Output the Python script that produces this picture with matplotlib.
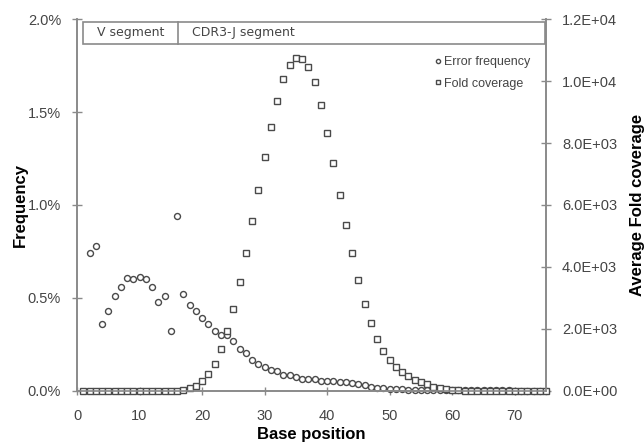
import numpy as np
import matplotlib.pyplot as plt
from matplotlib.ticker import FuncFormatter, MultipleLocator
from matplotlib.patches import Rectangle

# error frequency (%) at base positions 2..75
err_pos = np.arange(2, 76)
err_freq = [0.74, 0.78, 0.36, 0.43, 0.51, 0.56, 0.61, 0.60, 0.615, 0.60,
            0.56, 0.48, 0.51, 0.32, 0.94, 0.52, 0.465, 0.43, 0.39, 0.36,
            0.32, 0.30, 0.30, 0.27, 0.226, 0.206, 0.167, 0.146, 0.131, 0.112,
            0.108, 0.088, 0.085, 0.075, 0.066, 0.062, 0.065, 0.055, 0.054, 0.052,
            0.050, 0.049, 0.045, 0.039, 0.030, 0.022, 0.018, 0.014, 0.012, 0.010,
            0.009, 0.008, 0.007, 0.006, 0.006, 0.005, 0.005, 0.005, 0.004, 0.004,
            0.004, 0.004, 0.003, 0.003, 0.003, 0.003, 0.003, 0.003, 0.002, 0.002,
            0.002, 0.002, 0.002, 0.002]

# average fold coverage at base positions 1..75
cov_pos = np.arange(1, 76)
fold_cov = [0, 0, 0, 0, 0, 0, 0, 0, 0, 0,
            0, 0, 0, 0, 0, 5, 40, 90, 170, 330,
            555, 870, 1350, 1950, 2660, 3525, 4460, 5470, 6490, 7535,
            8515, 9360, 10060, 10530, 10750, 10715, 10455, 9970, 9240, 8320,
            7340, 6330, 5360, 4450, 3580, 2815, 2180, 1680, 1300, 995,
            775, 615, 495, 355, 280, 215, 140, 90, 55, 35,
            22, 15, 10, 8, 6, 5, 4, 3, 3, 2,
            2, 1, 1, 1, 1]

segments = ["V segment", "CDR3-J segment"]
seg_split = 16.1

plt.rcParams['font.family'] = ['Liberation Sans', 'DejaVu Sans']
grey = '#8a8a8a'
mk = '#4a4a4a'
txt = '#454545'

fig = plt.figure(figsize=(6.44, 4.42), dpi=100)
ax = fig.add_axes([0.1196, 0.1154, 0.7283, 0.8416])
ax2 = ax.twinx()

l1, = ax.plot(err_pos, np.array(err_freq) / 100, 'o', ms=4.3, mfc='white',
              mec=mk, mew=1.0, clip_on=False, label='Error frequency')
l2, = ax2.plot(cov_pos, fold_cov, 's', ms=4.2, mfc='white',
               mec=mk, mew=1.0, clip_on=False, label='Fold coverage')

ax.set_xlim(0, 75)
ax.set_ylim(0, 0.02)
ax2.set_ylim(0, 12000)
ax.set_xticks(range(0, 71, 10))
ax.yaxis.set_major_locator(MultipleLocator(0.005))
ax2.yaxis.set_major_locator(MultipleLocator(2000))
ax.yaxis.set_major_formatter(FuncFormatter(lambda v, p: "{:.1f}%".format(v * 100)))
ax2.yaxis.set_major_formatter(FuncFormatter(lambda v, p: "{:.1E}".format(v)))

for a in (ax, ax2):
    for s in a.spines.values():
        s.set_color(grey)
        s.set_linewidth(1.2)
    a.spines['top'].set_visible(False)
    a.tick_params(colors=grey, labelcolor=txt, labelsize=10.5, width=1.0)
ax.tick_params(axis='y', direction='inout', length=7, pad=8)
ax2.tick_params(axis='y', direction='inout', length=7, pad=8)
ax.tick_params(axis='x', direction='inout', length=6, pad=10)

ax.set_xlabel("Base position", fontsize=12, fontweight='bold', labelpad=3)
ax.set_ylabel("Frequency", fontsize=12, fontweight='bold', labelpad=0)
ax2.set_ylabel("Average Fold coverage", fontsize=12, fontweight='bold', labelpad=9)

# segment header box
box_x0, box_x1 = 0.013, 0.998
box_y0, box_y1 = 0.933, 0.992
div = seg_split / 75
ax.add_patch(Rectangle((box_x0, box_y0), box_x1 - box_x0, box_y1 - box_y0,
                       transform=ax.transAxes, fill=False, ec=grey, lw=1.2))
ax.plot([div, div], [box_y0, box_y1], transform=ax.transAxes, color=grey, lw=1.2)
ax.text(0.043, (box_y0 + box_y1) / 2, segments[0], transform=ax.transAxes,
        va='center', fontsize=9, color=txt, family='DejaVu Sans')
ax.text(div + 0.03, (box_y0 + box_y1) / 2, segments[1], transform=ax.transAxes,
        va='center', fontsize=9, color=txt, family='DejaVu Sans')

ax2.legend([l1, l2], ['Error frequency', 'Fold coverage'], loc='upper right',
           bbox_to_anchor=(0.99, 0.93), frameon=False, fontsize=9,
           handlelength=0.6, handletextpad=0.2, labelspacing=0.75,
           labelcolor=txt, markerscale=0.7)

fig.savefig("out.png", dpi=100)
